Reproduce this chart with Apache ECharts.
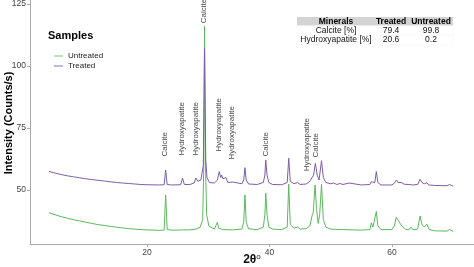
<!DOCTYPE html>
<html>
<head>
<meta charset="utf-8">
<script src="https://cdn.jsdelivr.net/npm/echarts@6/dist/echarts.min.js"></script>
<style>html,body{margin:0;padding:0;background:#fff;}#c{width:474px;height:267px;}</style>
</head>
<body>
<div id="c"></div>
<script>
// ---- data ----
const untreated = [
[4,40.8],[5,40.0],[6,39.2],[7,38.6],[8,38.0],[9,37.5],[10,37.0],[11,36.5],[12,36.0],[13,35.7],[14,35.3],[15,35.0],[16,34.7],[17,34.4],[18,34.2],[19,34.0],[20,33.9],[21,33.8],[22,33.7],
[22.8,33.8],[23.05,48.0],[23.3,34.0],[24,33.8],[25,33.8],[25.8,33.9],[27,33.9],[28,34.2],[28.7,35.0],[29.1,38.0],[29.28,60],[29.4,116],[29.55,60],[29.75,40],[30.1,35.5],
[31,34.2],[31.3,34.5],[31.5,37.0],[31.7,34.5],[32.5,34.0],[34,33.9],[35.5,34.2],[35.8,37.0],[36.0,48.0],[36.2,37.0],[36.6,34.3],[38,34.0],
[39.0,35.0],[39.25,40.0],[39.4,48.7],[39.6,40.0],[39.9,35.0],[40.5,34.2],[42,34.0],[42.9,35.0],[43.15,52.3],[43.4,36.0],[44,34.6],[44.6,35.0],[45,34.2],[46,34.4],
[46.6,35.5],[47.0,40.0],[47.15,41.0],[47.45,52.0],[47.7,42.0],[47.95,36.5],[48.2,40.0],[48.5,52.3],[48.8,38.0],[49.2,35.0],[50,34.2],[52,34.0],[55,33.8],
[56.4,34.0],[56.65,36.8],[56.9,35.0],[57.2,35.5],[57.45,41.3],[57.7,35.5],[58.2,34.0],[60,34.0],[60.4,35.5],[60.7,39.0],[61.2,37.0],[61.6,35.5],[62.2,34.0],
[62.8,34.0],[63.1,35.0],[63.4,34.0],[64.2,34.2],[64.6,39.5],[64.9,36.0],[65.3,35.0],[65.7,36.2],[66.1,34.0],[67,33.5],[69,33.4],[69.4,34.1],[69.7,33.4],[70,33.2]
];
const treated = [
[4,57.5],[5,56.8],[6,56.2],[7,55.7],[8,55.3],[9,54.9],[10,54.5],[11,54.2],[12,53.9],[13,53.6],[14,53.3],[15,53.0],[16,52.8],[17,52.6],[18,52.4],[19,52.2],[20,52.1],[22,52.0],
[22.8,52.1],[23.05,58.0],[23.3,52.2],[24,52.0],[25.5,52.1],[25.8,54.8],[26.1,52.2],[27,52.2],[27.7,52.8],[28.0,54.8],[28.3,53.5],[28.8,54.0],[29.2,60],[29.4,107],[29.6,62],[29.8,55],[30.2,53.0],
[31,52.8],[31.5,54.0],[31.8,57.4],[32.05,55.0],[32.2,56.0],[32.4,54.5],[32.9,55.0],[33.2,53.0],[34.0,53.2],[34.3,52.5],[35.5,52.5],[35.8,54.0],[36.0,59.0],[36.2,54.0],[36.6,52.4],[38,52.2],
[39.0,53.0],[39.25,56.0],[39.4,62.1],[39.6,56.0],[39.9,53.0],[40.5,52.2],[42,52.1],[42.9,53.0],[43.15,62.8],[43.4,53.5],[44,52.5],[44.6,53.0],[45,52.2],[46,52.4],
[46.6,53.5],[47.2,56.0],[47.5,60.7],[47.8,56.0],[48.1,54.0],[48.5,61.8],[48.8,55.0],[49.2,53.0],[50,52.5],[50.5,52.8],[51,52.2],[51.5,52.6],[52,52.2],[53,52.8],[53.3,52.2],[55,52.0],
[56.4,52.2],[56.6,53.3],[56.9,52.6],[57.2,53.0],[57.45,57.4],[57.7,53.0],[58.2,52.0],[60,52.0],[60.5,53.0],[60.75,54.0],[61,53.0],[61.5,53.0],[62,52.3],
[62.8,52.2],[63.1,52.7],[63.4,52.0],[64.2,52.2],[64.6,54.3],[64.9,53.0],[65.3,52.5],[65.7,52.9],[66.0,52.0],[67,51.8],[69,51.7],[69.4,52.2],[69.7,51.6],[70,51.5]
];
const peakNames = ['Calcite','Hydroxyapatite','Hydroxyapatite','Calcite','Hydroxyapatite','Hydroxyapatite','Calcite','Hydroxyapatite','Calcite'];
const peakX = [23.05,25.8,28.0,29.35,31.8,34.0,39.5,46.1,47.7];
const peakY = [63.3,63.7,63.7,117,65.3,62.1,63.3,57.3,62.9];
const xTicks = [20,40,60];
const yTicks = [50,75,100,125];
const tableHeader = ['Minerals','Treated','Untreated'];
const tableMinerals = ['Calcite [%]','Hydroxyapatite [%]'];
const tableTreated = ['79.4','20.6'];
const tableUntreated = ['99.8','0.2'];

const GREEN = '#5cb85e', PURPLE = '#7a5fa8';
const FONT = 'Liberation Sans, Arial, sans-serif';

// table graphic
const colX = [336, 391, 431];
const els = [
  {type:'rect', shape:{x:297,y:17,width:156,height:8.5}, style:{fill:'#d3d3d3'}},
  {type:'rect', shape:{x:297,y:26,width:156,height:19}, style:{fill:'#fff', stroke:'#f0f0f0', lineWidth:0.5}},
  {type:'line', shape:{x1:297,y1:35.5,x2:453,y2:35.5}, style:{stroke:'#f0f0f0', lineWidth:0.5}}
];
tableHeader.forEach((t,i)=>els.push({type:'text', x:colX[i], y:21.3, style:{text:t, font:'bold 8.5px '+FONT, fill:'#000', align:'center', verticalAlign:'middle'}}));
tableMinerals.forEach((t,r)=>{
  const y = 30.7 + r*9.3;
  [t, tableTreated[r], tableUntreated[r]].forEach((v,i)=>els.push({type:'text', x:colX[i], y:y, style:{text:v, font:'8.5px '+FONT, fill:'#111', align:'center', verticalAlign:'middle'}}));
});
els.push({type:'text', x:48, y:36, style:{text:'Samples', font:'bold 11px '+FONT, fill:'#000', verticalAlign:'middle'}});
els.push({type:'text', x:9, y:123, rotation:Math.PI/2, style:{text:'Intensity (Counts/s)', font:'bold 11px '+FONT, fill:'#000', align:'center', verticalAlign:'middle'}});
els.push({type:'text', x:252, y:260, style:{text:'{a|2θ}{b|o}', align:'center', verticalAlign:'middle',
  rich:{a:{font:'bold 12px '+FONT, fill:'#111'}, b:{font:'8px '+FONT, fill:'#111', padding:[0,0,7,0]}}}});

const chart = echarts.init(document.getElementById('c'), null, {renderer:'canvas'});
chart.setOption({
  animation:false,
  textStyle:{fontFamily:FONT},
  grid:{left:30, right:0, top:0, bottom:23, containLabel:false, outerBoundsMode:'none'},
  legend:{
    orient:'vertical', left:49, top:47, itemWidth:9, itemHeight:2, itemGap:2,
    textStyle:{fontSize:8, color:'#222', fontFamily:FONT},
    data:[
      {name:'Untreated', icon:'rect', itemStyle:{color:'#c0dfc0'}},
      {name:'Treated', icon:'rect', itemStyle:{color:'#c4b8d8'}}
    ]
  },
  xAxis:{
    type:'value', min:0.9, max:73.4,
    axisLine:{lineStyle:{color:'#aaaaaa', width:1}},
    axisTick:{show:true, length:3, customValues:xTicks, lineStyle:{color:'#aaaaaa'}},
    axisLabel:{customValues:xTicks, fontSize:8.5, color:'#444', margin:4, fontFamily:FONT},
    splitLine:{show:false}
  },
  yAxis:{
    type:'value', min:28.2, max:126.6,
    axisLine:{show:true, lineStyle:{color:'#aaaaaa', width:1}},
    axisTick:{show:true, length:3, customValues:yTicks, lineStyle:{color:'#aaaaaa'}},
    axisLabel:{customValues:yTicks, fontSize:8.5, color:'#444', margin:4, fontFamily:FONT},
    splitLine:{show:false}
  },
  graphic:els,
  series:[
    {name:'Untreated', type:'line', data:untreated, showSymbol:false, lineStyle:{color:GREEN, width:1}, itemStyle:{color:GREEN}, z:2},
    {name:'Treated', type:'line', data:treated, showSymbol:false, lineStyle:{color:PURPLE, width:1}, itemStyle:{color:PURPLE}, z:3},
    {name:'labels', type:'scatter', symbolSize:1, itemStyle:{color:'transparent'}, z:4,
     data:peakX.map((x,i)=>({value:[x, peakY[i]], name:peakNames[i]})),
     label:{show:true, formatter:p=>p.name, rotate:90, position:[0,0], align:'left', verticalAlign:'middle', fontSize:8, color:'#111', fontFamily:FONT}}
  ]
});
</script>
</body>
</html>
